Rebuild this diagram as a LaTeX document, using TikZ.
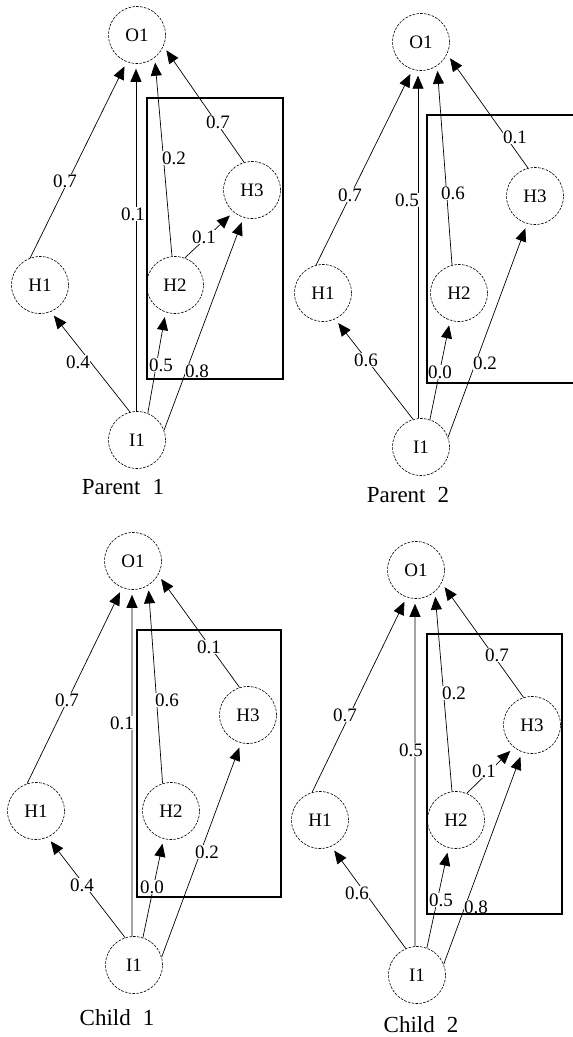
\documentclass[tikz,border=0pt]{standalone}
\usepackage{fontspec}
\setmainfont{Liberation Serif}
\usetikzlibrary{arrows.meta}
\tikzset{
  neuron/.style={circle, draw, line width=0.6pt, dash pattern=on 2.6pt off 1.3pt, fill=white, minimum size=57pt, inner sep=0pt, font=\fontsize{19}{19}\selectfont},
  edge/.style={line width=0.7pt, -{Triangle[length=13pt,width=11pt]}, shorten >=5pt},
  lbl/.style={fill=white, inner sep=0.6pt, font=\fontsize{19}{19}\selectfont},
  captxt/.style={inner sep=0pt, font=\fontsize{23}{23}\selectfont},
  frame/.style={line width=1.3pt}
}
\begin{document}
\begin{tikzpicture}[x=1pt,y=-1pt]
\useasboundingbox[fill=white] (0,0) rectangle (573,1037);

% ===== Parent 1 =====
\node[neuron] (O1a) at (137,35) {O1};
\node[neuron] (H1a) at (40,285) {H1};
\node[neuron] (H2a) at (175,285) {H2};
\node[neuron] (H3a) at (252,190) {H3};
\node[neuron] (I1a) at (137,440) {I1};
\draw[edge] (H1a.110) -- (O1a.-111);
\draw[edge] (I1a.92) -- (O1a.-92);
\draw[edge] (H2a.96) -- (O1a.-52);
\draw[edge] (H3a.106) -- (O1a.-23);
\draw[edge] (H2a.70) -- (H3a.-130);
\draw[edge] (I1a.20) -- (H3a.-107);
\draw[edge] (I1a.104) -- (H1a.-68);
\draw[edge] (I1a.68) -- (H2a.-109);
\node[lbl] (la1) at (65,181) {0.7};
\node[lbl] (la2) at (133,214) {0.1};
\node[lbl] (la3) at (174,158) {0.2};
\node[lbl] (la4) at (218,122) {0.7};
\node[lbl] (la5) at (204,237) {0.1};
\node[lbl] (la6) at (197,371) {0.8};
\node[lbl] (la7) at (78,362) {0.4};
\node[lbl] (la8) at (161,365) {0.5};
\draw[frame] (147,98) rectangle (283,379);
\node[captxt] (capa) at (123,487) {Parent\hspace{12pt}1};

% ===== Parent 2 =====
\node[neuron] (O1b) at (421,42) {O1};
\node[neuron] (H1b) at (323,293) {H1};
\node[neuron] (H2b) at (459,293) {H2};
\node[neuron] (H3b) at (535,196) {H3};
\node[neuron] (I1b) at (421,447) {I1};
\draw[edge] (H1b.104) -- (O1b.-107);
\draw[edge] (I1b.96) -- (O1b.-96);
\draw[edge] (H2b.104) -- (O1b.-56);
\draw[edge] (H3b.104) -- (O1b.-25);
\draw[edge] (I1b.20) -- (H3b.-106);
\draw[edge] (I1b.106) -- (H1b.-65);
\draw[edge] (I1b.72) -- (H2b.-108);
\node[lbl] (lb1) at (350,195) {0.7};
\node[lbl] (lb2) at (407,200) {0.5};
\node[lbl] (lb3) at (453,193) {0.6};
\node[lbl] (lb4) at (515,137) {0.1};
\node[lbl] (lb5) at (485,363) {0.2};
\node[lbl] (lb6) at (366,360) {0.6};
\node[lbl] (lb7) at (440,372) {0.0};
\draw[frame] (580,115) -- (427,115) -- (427,383) -- (580,383);
\node[captxt] (capb) at (408,495) {Parent\hspace{12pt}2};

% ===== Child 1 =====
\node[neuron] (O1c) at (133,561) {O1};
\node[neuron] (H1c) at (36,811) {H1};
\node[neuron] (H2c) at (171,811) {H2};
\node[neuron] (H3c) at (248,715) {H3};
\node[neuron] (I1c) at (134,965) {I1};
\draw[edge] (H1c.108) -- (O1c.-112);
\draw[edge] (I1c.94) -- (O1c.-92);
\draw[edge] (H2c.107) -- (O1c.-58);
\draw[edge] (H3c.107) -- (O1c.-29);
\draw[edge] (I1c.16) -- (H3c.-104);
\draw[edge] (I1c.108) -- (H1c.-66);
\draw[edge] (I1c.72) -- (H2c.-105);
\node[lbl] (lc1) at (67,700) {0.7};
\node[lbl] (lc2) at (122,723) {0.1};
\node[lbl] (lc3) at (167,700) {0.6};
\node[lbl] (lc4) at (209,647) {0.1};
\node[lbl] (lc5) at (207,852) {0.2};
\node[lbl] (lc6) at (82,885) {0.4};
\node[lbl] (lc7) at (152,887) {0.0};
\draw[frame] (137,630) rectangle (281,897);
\node[captxt] (capc) at (117,1018) {Child\hspace{12pt}1};

% ===== Child 2 =====
\node[neuron] (O1d) at (416,570) {O1};
\node[neuron] (H1d) at (320,820) {H1};
\node[neuron] (H2d) at (456,820) {H2};
\node[neuron] (H3d) at (532,725) {H3};
\node[neuron] (I1d) at (417,975) {I1};
\draw[edge] (H1d.106) -- (O1d.-109);
\draw[edge] (I1d.94) -- (O1d.-92);
\draw[edge] (H2d.98) -- (O1d.-49);
\draw[edge] (H3d.107) -- (O1d.-27);
\draw[edge] (H2d.68) -- (H3d.-129);
\draw[edge] (I1d.22) -- (H3d.-110);
\draw[edge] (I1d.113) -- (H1d.-67);
\draw[edge] (I1d.70) -- (H2d.-105);
\node[lbl] (ld1) at (345,715) {0.7};
\node[lbl] (ld2) at (411,750) {0.5};
\node[lbl] (ld3) at (454,693) {0.2};
\node[lbl] (ld4) at (497,655) {0.7};
\node[lbl] (ld5) at (484,771) {0.1};
\node[lbl] (ld6) at (476,907) {0.8};
\node[lbl] (ld7) at (357,893) {0.6};
\node[lbl] (ld8) at (441,900) {0.5};
\draw[frame] (427,634) rectangle (562,914);
\node[captxt] (capd) at (421,1025) {Child\hspace{12pt}2};
\end{tikzpicture}
\end{document}
